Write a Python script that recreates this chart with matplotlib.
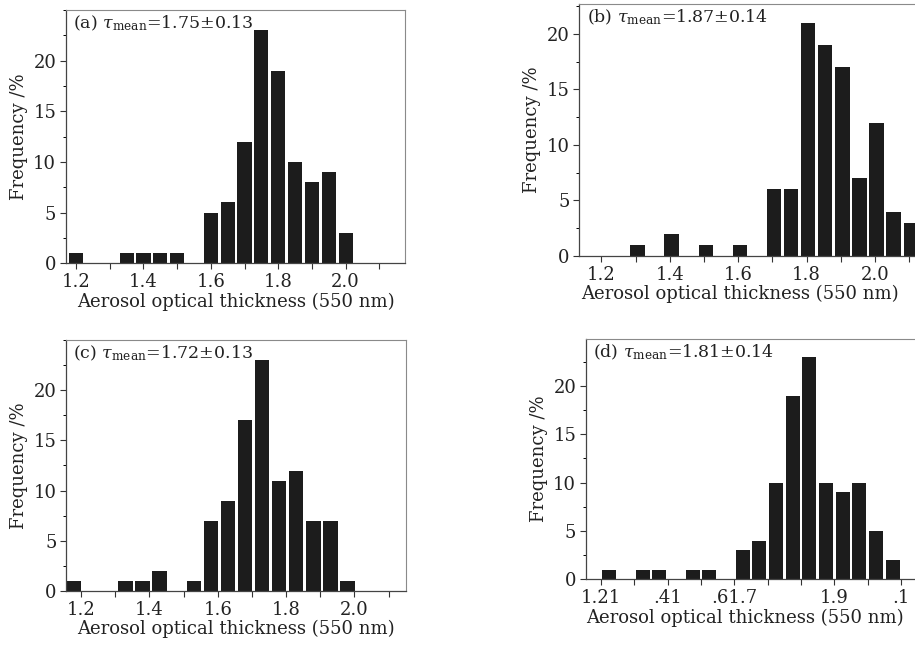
import numpy as np
import matplotlib
matplotlib.use('Agg')
import matplotlib.pyplot as plt
from matplotlib.ticker import MultipleLocator

plt.rcParams['font.family'] = ['DejaVu Serif']
plt.rcParams['mathtext.fontset'] = 'dejavuserif'

# panel (a)
aod_a = [1.20, 1.25, 1.30, 1.35, 1.40, 1.45, 1.50, 1.55, 1.60, 1.65, 1.70, 1.75, 1.80, 1.85, 1.90, 1.95, 2.00]
freq_a = [1, 0, 0, 1, 1, 1, 1, 0, 5, 6, 12, 23, 19, 10, 8, 9, 3]
# panel (b)
aod_b = [1.305, 1.355, 1.405, 1.455, 1.505, 1.555, 1.605, 1.655, 1.705, 1.755, 1.805, 1.855, 1.905, 1.955, 2.005, 2.055, 2.105]
freq_b = [1, 0, 2, 0, 1, 0, 1, 0, 6, 6, 21, 19, 17, 7, 12, 4, 3]
# panel (c)
aod_c = [1.18, 1.23, 1.28, 1.33, 1.38, 1.43, 1.48, 1.53, 1.58, 1.63, 1.68, 1.73, 1.78, 1.83, 1.88, 1.93, 1.98]
freq_c = [1, 0, 0, 1, 1, 2, 0, 1, 7, 9, 17, 23, 11, 12, 7, 7, 1]
# panel (d)
aod_d = [1.225, 1.275, 1.325, 1.375, 1.425, 1.475, 1.525, 1.575, 1.625, 1.675, 1.725, 1.775, 1.825, 1.875, 1.925, 1.975, 2.025, 2.075]
freq_d = [1, 0, 1, 1, 0, 1, 1, 0, 3, 4, 10, 19, 23, 10, 9, 10, 5, 2]

titles = [r'(a) $\tau_{\rm mean}$=1.75$\pm$0.13',
          r'(b) $\tau_{\rm mean}$=1.87$\pm$0.14',
          r'(c) $\tau_{\rm mean}$=1.72$\pm$0.13',
          r'(d) $\tau_{\rm mean}$=1.81$\pm$0.14']

ticks_std = [1.2, 1.3, 1.4, 1.5, 1.6, 1.7, 1.8, 1.9, 2.0, 2.1]
labels_std = ['1.2', '', '1.4', '', '1.6', '', '1.8', '', '2.0', '']
labels_d = ['1.21', '', '.41', '', '.61.7', '', '', '1.9', '', '.1']

fig = plt.figure(figsize=(9.15, 6.45), dpi=100)

axes_pos = [[0.0721, 0.5918, 0.3705, 0.3927],
            [0.6331, 0.6031, 0.3977, 0.3907],
            [0.0725, 0.0837, 0.3712, 0.3892],
            [0.6404, 0.1018, 0.3806, 0.3726]]
xlims = [(1.17, 2.176), (1.135, 2.2), (1.157, 2.151), (1.155, 2.2)]
ylims = [(0, 25), (0, 22.7), (0, 25), (0, 24.85)]
xlabel_x = [0.5, 0.4415, 0.5, 0.457]
xs = [aod_a, aod_b, aod_c, aod_d]
ys = [freq_a, freq_b, freq_c, freq_d]

for i in range(4):
    ax = fig.add_axes(axes_pos[i])
    ax.bar(xs[i], ys[i], width=0.042, color='#1c1c1c', edgecolor='none')
    ax.set_xlim(*xlims[i])
    ax.set_ylim(*ylims[i])
    ax.set_xticks(ticks_std)
    if i == 3:
        ax.set_xticklabels(labels_d)
    else:
        ax.set_xticklabels(labels_std)
    ax.set_yticks([0, 5, 10, 15, 20])
    ax.yaxis.set_minor_locator(MultipleLocator(2.5))
    ax.tick_params(axis='both', which='major', direction='out', length=4, width=0.8,
                   labelsize=13, colors='#333333', pad=3)
    ax.tick_params(axis='both', which='minor', direction='out', length=2.5, width=0.7)
    ax.tick_params(axis='both', labelcolor='#222222')
    for side in ['top', 'right']:
        ax.spines[side].set_color('#8a8a8a')
        ax.spines[side].set_linewidth(0.8)
    for side in ['left', 'bottom']:
        ax.spines[side].set_color('#444444')
        ax.spines[side].set_linewidth(0.9)
    ax.set_xlabel('Aerosol optical thickness (550 nm)', fontsize=13, color='#222222', labelpad=1)
    ax.xaxis.label.set_x(xlabel_x[i])
    ax.set_ylabel('Frequency /%', fontsize=13, color='#222222', labelpad=4)
    ax.text(0.02, 0.985, titles[i], transform=ax.transAxes, ha='left', va='top',
            fontsize=12.5, color='#222222')

plt.savefig('out.png', dpi=100)
